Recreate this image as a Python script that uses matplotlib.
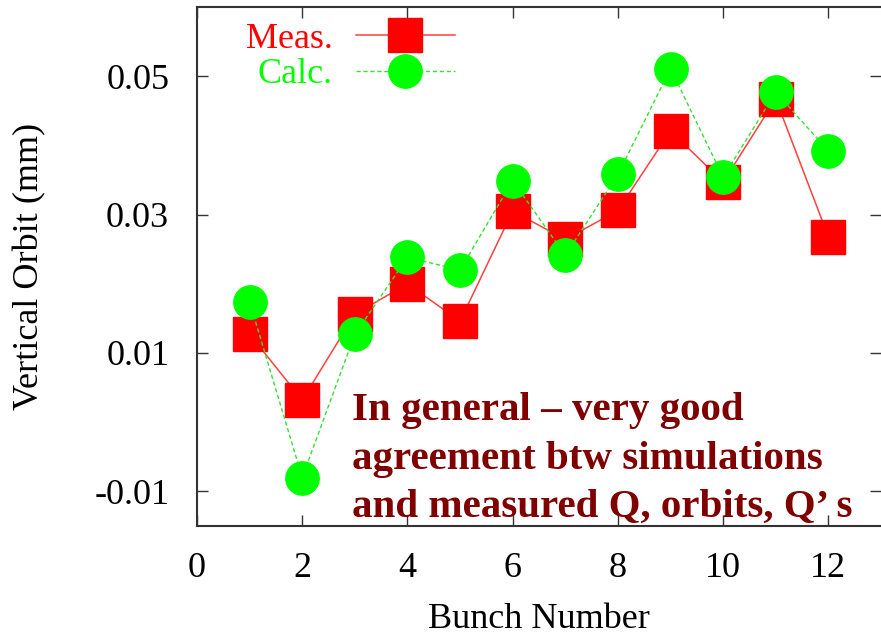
import matplotlib
matplotlib.use('Agg')
import matplotlib.pyplot as plt

plt.rcParams['font.family'] = ['Liberation Serif', 'DejaVu Serif']

bunch = [1, 2, 3, 4, 5, 6, 7, 8, 9, 10, 11, 12]
meas = [0.0127, 0.0032, 0.0156, 0.0200, 0.0146, 0.0305,
        0.0264, 0.0306, 0.0421, 0.0347, 0.0467, 0.0268]
calc = [0.0174, -0.0080, 0.0127, 0.0238, 0.0220, 0.0349,
        0.0241, 0.0358, 0.0511, 0.0354, 0.0477, 0.0392]
xticks = [0, 2, 4, 6, 8, 10, 12]
yticks = [-0.01, 0.01, 0.03, 0.05]
note = 'In general \u2013 very good\nagreement btw simulations\nand measured Q, orbits, Q\u2019 s'

fig = plt.figure(figsize=(8.81, 6.36), dpi=100)
ax = fig.add_axes([0.2236, 0.173, 0.7764, 0.816])

ax.plot(bunch, meas, '-', color='#ff4040', lw=1.1, marker='s', ms=24,
        mfc='red', mec='red', label='Meas.')
ax.plot(bunch, calc, '--', color='#33e033', lw=1.0, dashes=(3, 2), marker='o',
        ms=24, mfc='#00ff00', mec='#00ff00', label='Calc.')

ax.set_xlim(0, 13)
ax.set_ylim(-0.015, 0.06)
ax.set_xticks(xticks)
ax.set_yticks(yticks)
ax.set_yticklabels(['%g' % v for v in yticks])
ax.tick_params(direction='in', length=8, width=1, colors='#333333',
               labelcolor='black', labelsize=26, top=True, right=True)
ax.tick_params(axis='x', pad=19)
ax.tick_params(axis='y', pad=20)
ax.spines['right'].set_visible(False)
for s in ['left', 'top', 'bottom']:
    ax.spines[s].set_linewidth(1.5)
    ax.spines[s].set_color('#333333')

ax.set_xlabel('Bunch Number', fontsize=26)
ax.set_ylabel('Vertical Orbit (mm)', fontsize=26)
ax.xaxis.set_label_coords(0.5, -0.148)
ax.yaxis.set_label_coords(-0.22, 0.5)

leg = ax.legend(loc='upper left', bbox_to_anchor=(0.072, 0.97), frameon=False,
                markerfirst=False, fontsize=26, handlelength=2.75,
                handletextpad=0.62, labelspacing=0.06, borderpad=0, borderaxespad=0)
for txt, c in zip(leg.get_texts(), ['red', '#00ff00']):
    txt.set_color(c)

fig.text(0.3995, 0.187, note, color='#800000', fontsize=29.5, fontweight='bold',
         ha='left', va='baseline', linespacing=1.41)

fig.savefig('out.png', dpi=100)
